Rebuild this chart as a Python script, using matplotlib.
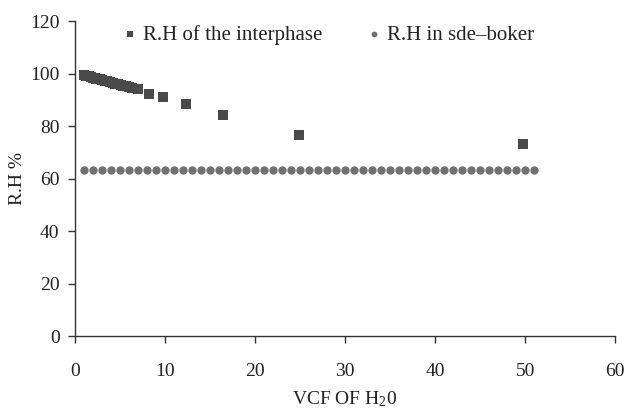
import numpy as np
import matplotlib.pyplot as plt

plt.rcParams['font.family'] = ['Liberation Serif', 'DejaVu Serif']
plt.rcParams['mathtext.fontset'] = 'custom'
plt.rcParams['mathtext.rm'] = 'Liberation Serif'
plt.rcParams['mathtext.it'] = 'Liberation Serif:italic'

# relative humidity at the interphase vs volume concentration factor
vcf_inter = [1.0, 1.2, 1.4, 1.6, 1.8, 2.0, 2.2, 2.4, 2.6, 2.8, 3.0, 3.3, 3.6,
             3.9, 4.2, 4.5, 4.8, 5.1, 5.4, 5.7, 6.0, 6.3, 7.0, 8.2, 9.8,
             12.3, 16.5, 24.9, 49.8]
rh_inter = [99.4, 99.2, 99.0, 98.9, 98.7, 98.5, 98.3, 98.1, 98.0, 97.8, 97.6,
            97.3, 97.1, 96.8, 96.5, 96.2, 95.9, 95.7, 95.4, 95.1, 94.9, 94.6,
            94.0, 92.4, 90.9, 88.4, 84.3, 76.7, 73.1]

# ambient relative humidity in Sde-Boker
vcf_ambient = list(range(1, 52))
rh_ambient = [63.3] * len(vcf_ambient)

fig = plt.figure(figsize=(6.29, 4.13), dpi=100)
ax = fig.add_axes([0.119, 0.186, 0.859, 0.763])

ax.scatter(vcf_inter, rh_inter, marker='s', s=46, color='#4a4a4a',
           linewidths=0, label='R.H of the interphase', zorder=3)
ax.scatter(vcf_ambient, rh_ambient, marker='o', s=36, color='#707070',
           linewidths=0, label='R.H in sde\u2013boker', zorder=3)

ax.set_xlim(0, 60)
ax.set_ylim(0, 120)
ax.set_xticks(np.arange(0, 61, 10))
ax.set_yticks(np.arange(0, 121, 20))

for side in ('top', 'right'):
    ax.spines[side].set_visible(False)
for side in ('left', 'bottom'):
    ax.spines[side].set_color('#333333')
    ax.spines[side].set_linewidth(1.0)

ax.tick_params(axis='x', direction='out', length=5, width=1, pad=14,
               labelsize=14, colors='#333333', labelcolor='#222222')
ax.tick_params(axis='y', direction='out', length=5, width=1, pad=6,
               labelsize=14, colors='#333333', labelcolor='#222222')

ax.set_xlabel('VCF OF H$_2$0', fontsize=14, color='#222222', labelpad=7)
ax.set_ylabel('R.H %', fontsize=14, color='#222222', labelpad=3)

ax.legend(loc='center', bbox_to_anchor=(0.466, 0.956), ncol=2,
          frameon=False, fontsize=15, markerscale=0.7, handletextpad=0.1,
          columnspacing=2.0, handlelength=1.0, borderpad=0,
          labelcolor='#222222')

fig.savefig('out.png', dpi=100)
